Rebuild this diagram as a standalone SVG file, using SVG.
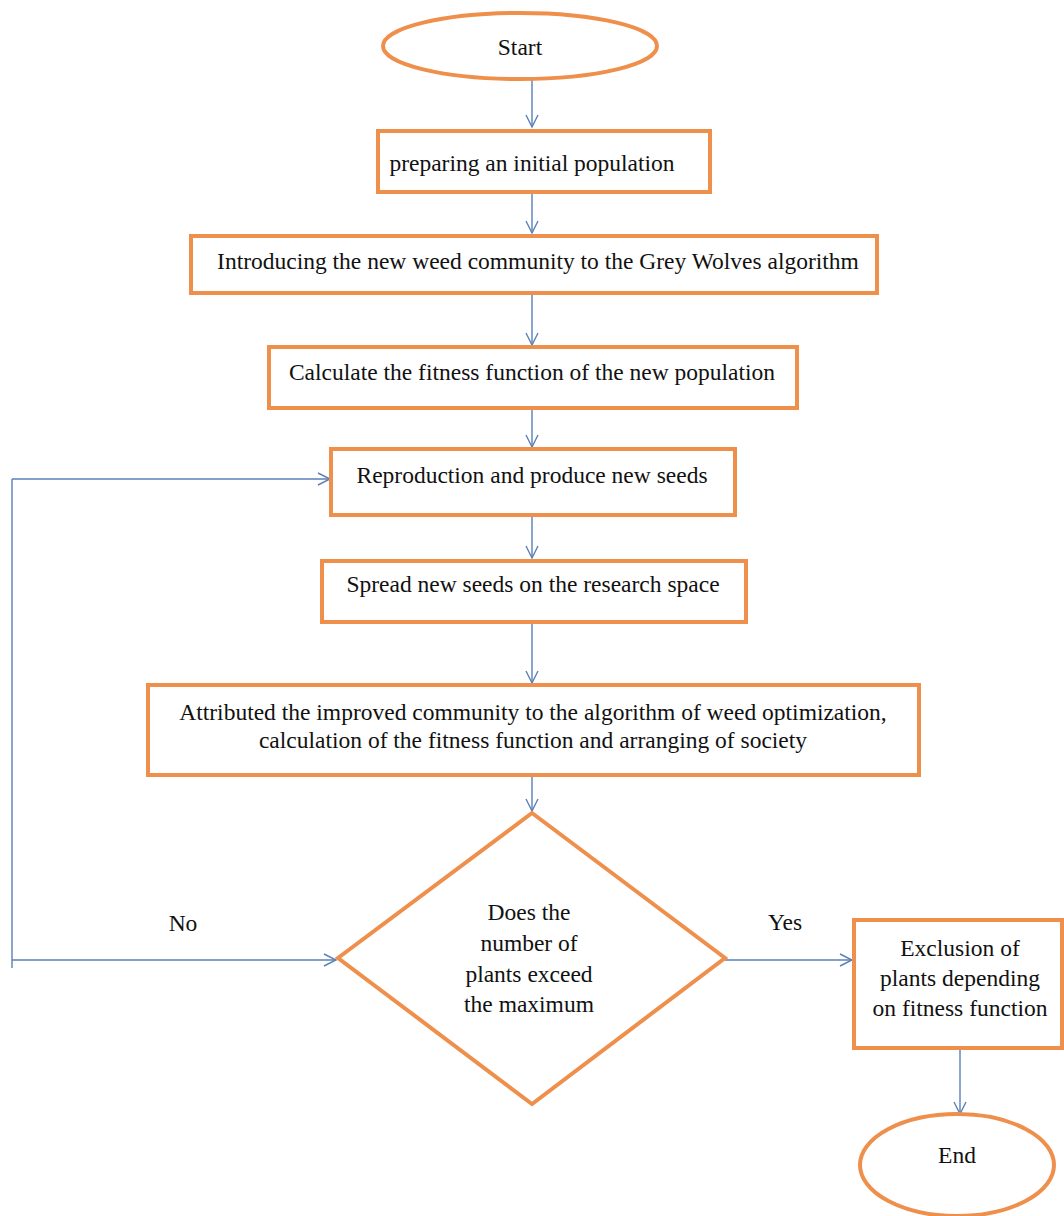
<svg xmlns="http://www.w3.org/2000/svg" width="1064" height="1216" viewBox="0 0 1064 1216">
<defs>
<style>
.shape{fill:#ffffff;stroke:#EF8F4C;stroke-width:4}
.conn{fill:none;stroke:#5A80B8;stroke-width:1.4}
text{font-family:"Liberation Serif","Times New Roman",serif;font-size:23.5px;fill:#111111;text-anchor:middle}
</style>
<marker id="arr" markerUnits="userSpaceOnUse" markerWidth="16" markerHeight="16" refX="13" refY="7" orient="auto">
<path d="M1,1 L13,7 L1,13" fill="none" stroke="#5A80B8" stroke-width="1.4"/>
</marker>
</defs>
<rect width="1064" height="1216" fill="#ffffff"/>
<g id="connectors">
<line class="conn" x1="532" y1="80" x2="532" y2="127" marker-end="url(#arr)"/>
<line class="conn" x1="532" y1="193" x2="532" y2="233" marker-end="url(#arr)"/>
<line class="conn" x1="532" y1="293" x2="532" y2="345" marker-end="url(#arr)"/>
<line class="conn" x1="532" y1="408" x2="532" y2="447" marker-end="url(#arr)"/>
<line class="conn" x1="532" y1="515" x2="532" y2="558" marker-end="url(#arr)"/>
<line class="conn" x1="532" y1="622" x2="532" y2="683" marker-end="url(#arr)"/>
<line class="conn" x1="532" y1="775" x2="532" y2="811" marker-end="url(#arr)"/>
<line class="conn" x1="12" y1="479" x2="12" y2="968"/>
<line class="conn" x1="12" y1="479" x2="330" y2="479" marker-end="url(#arr)"/>
<line class="conn" x1="12" y1="960" x2="336" y2="960" marker-end="url(#arr)"/>
<line class="conn" x1="725" y1="960" x2="852" y2="960" marker-end="url(#arr)"/>
<line class="conn" x1="960" y1="1049" x2="960" y2="1114" marker-end="url(#arr)"/>
</g>
<g id="start">
<ellipse class="shape" cx="520" cy="46" rx="137" ry="33"/>
<text x="520" y="55">Start</text>
</g>
<g id="init">
<rect class="shape" x="378" y="131" width="332" height="61"/>
<text x="532" y="171">preparing an initial population</text>
</g>
<g id="introduce">
<rect class="shape" x="191" y="236" width="686" height="57"/>
<text x="538" y="269">Introducing the new weed community to the Grey Wolves algorithm</text>
</g>
<g id="fitness">
<rect class="shape" x="269" y="347" width="528" height="61"/>
<text x="532" y="380">Calculate the fitness function of the new population</text>
</g>
<g id="reproduction">
<rect class="shape" x="331" y="449" width="404" height="66"/>
<text x="532" y="483">Reproduction and produce new seeds</text>
</g>
<g id="spread">
<rect class="shape" x="322" y="561" width="424" height="61"/>
<text x="533" y="592">Spread new seeds on the research space</text>
</g>
<g id="attributed">
<rect class="shape" x="148" y="685" width="771" height="90"/>
<text x="533" y="720">Attributed the improved community to the algorithm of weed optimization,</text>
<text x="533" y="748">calculation of the fitness function and arranging of society</text>
</g>
<g id="decision">
<polygon class="shape" points="532,813 725,958 532,1104 338,958"/>
<text x="529" y="920">Does the</text>
<text x="529" y="951">number of</text>
<text x="529" y="982">plants exceed</text>
<text x="529" y="1012">the maximum</text>
</g>
<g id="exclusion">
<rect class="shape" x="854" y="920" width="208" height="128"/>
<text x="960" y="956">Exclusion of</text>
<text x="960" y="986">plants depending</text>
<text x="960" y="1016">on fitness function</text>
</g>
<g id="end">
<ellipse class="shape" cx="957" cy="1165" rx="97" ry="51"/>
<text x="957" y="1163">End</text>
</g>
<g id="labels">
<text x="183" y="931">No</text>
<text x="785" y="930">Yes</text>
</g>
</svg>
